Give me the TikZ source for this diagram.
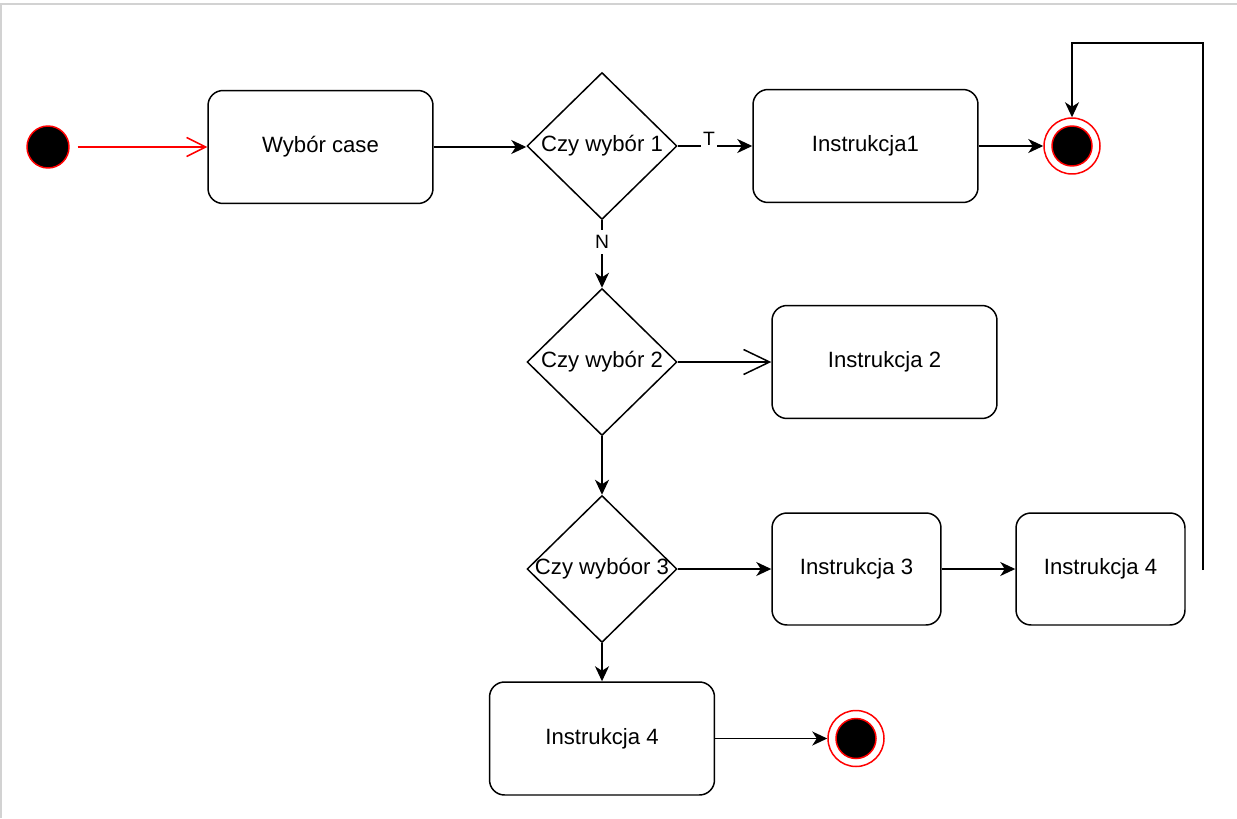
\documentclass[tikz,border=0pt]{standalone}
\usepackage{fontspec}
\setmainfont{Liberation Sans}
\usetikzlibrary{shapes.geometric, arrows.meta}

\begin{document}
\begin{tikzpicture}[
    x=0.02cm, y=-0.02cm,
    line width=0.85pt,
    every node/.style={font=\fontsize{12.6}{15}\selectfont},
    box/.style={draw, rounded corners=0.3cm, minimum width=4.5cm, minimum height=2.26cm, inner sep=0pt},
    smallbox/.style={box, minimum width=3.38cm, minimum height=2.24cm},
    decision/.style={diamond, draw, minimum width=3cm, minimum height=2.94cm, inner sep=0pt},
    start/.style={circle, draw=red, fill=black, minimum size=0.84cm, inner sep=0pt},
    final/.style={circle, draw=red, fill=white, minimum size=1.12cm, inner sep=0pt},
    finalcore/.style={circle, draw=red, fill=black, minimum size=0.8cm, inner sep=0pt},
    lbl/.style={fill=white, inner sep=1pt, font=\fontsize{11}{13}\selectfont},
    arr/.style={-{Stealth[length=0.3cm, width=0.28cm, inset=0.09cm]}},
    openarr/.style={-{Straight Barb[length=0.38cm, width=0.38cm]}}
]

    % --- CANVAS ---
    \useasboundingbox (0,0) rectangle (1237,818);
    \draw[gray!35, line width=1.1pt] (1,818) -- (1,4) -- (1237,4);

    % --- TOP ROW ---
    \node[start] (init) at (48,147) {};
    \node[box] (choice) at (320.5,147) {Wybór case};
    \node[decision, label=center:{Czy wybór 1}] (dec1) at (602,146) {};
    \node[box] (instr1) at (865.5,146) {Instrukcja1};
    \node[final] (end1) at (1072,146) {};
    \node[finalcore] (end1c) at (end1) {};

    % --- MIDDLE ---
    \node[decision, label=center:{Czy wybór 2}] (dec2) at (602,362) {};
    \node[box] (instr2) at (884.5,362) {Instrukcja 2};

    \node[decision, label=center:{Czy wybóor 3}] (dec3) at (602,569) {};
    \node[smallbox] (instr3) at (856.5,569) {Instrukcja 3};
    \node[smallbox] (instr4r) at (1100.5,569) {Instrukcja 4};

    % --- BOTTOM ---
    \node[box] (instr4) at (602,738.5) {Instrukcja 4};
    \node[final] (end2) at (856,738.5) {};
    \node[finalcore] (end2c) at (end2) {};

    % Loop back coordinates
    \coordinate (loopStart) at (1203,570);
    \coordinate (loopTop) at (1203,43);

    % --- CONNECTORS ---
    \draw[red, openarr, shorten <=0.16cm] (init) -- (choice);
    \draw[arr] (choice.east) -- (choice.east -| dec1.west);
    \draw[arr] (dec1) -- node[lbl, pos=0.42, yshift=0.15cm] (lblT) {T} (instr1);
    \draw[arr] (instr1) -- (end1);
    \draw[arr] (dec1) -- node[lbl, pos=0.32, inner ysep=3pt] (lblN) {N} (dec2);
    \draw[-{Straight Barb[length=0.52cm, width=0.5cm]}] (dec2) -- (instr2);
    \draw[arr] (dec2) -- (dec3);
    \draw[arr] (dec3) -- (instr3);
    \draw[arr] (instr3) -- (instr4r);
    \draw[arr] (dec3) -- (instr4);
    \draw[arr] (instr4) -- (end2);
    \draw[arr] (loopStart) -- (loopTop) -| (end1);

\end{tikzpicture}
\end{document}
